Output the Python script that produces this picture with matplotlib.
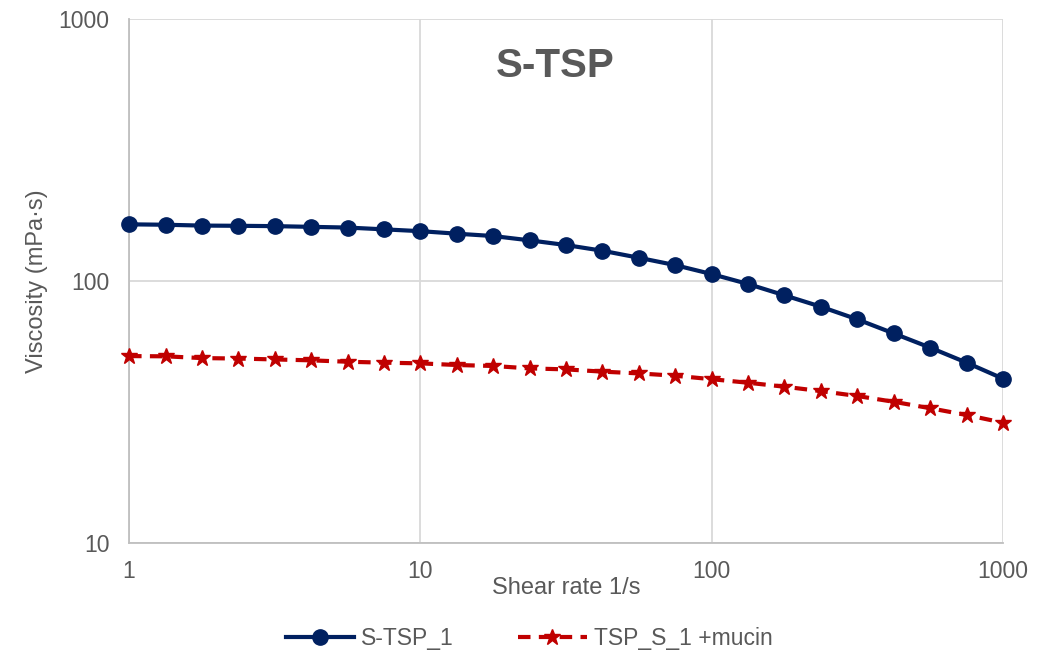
import matplotlib
matplotlib.use("Agg")
from matplotlib import pyplot as plt
from matplotlib.ticker import FixedLocator, FixedFormatter, NullLocator

plt.rcParams['font.family'] = ['Liberation Sans', 'DejaVu Sans']

# shear rate, 8 points per decade from 1 to 1000 1/s
shear_rate = [1.0, 1.334, 1.778, 2.371, 3.162, 4.217, 5.623, 7.499,
              10.0, 13.34, 17.78, 23.71, 31.62, 42.17, 56.23, 74.99,
              100.0, 133.4, 177.8, 237.1, 316.2, 421.7, 562.3, 749.9, 1000.0]

visc_stsp = [164.6, 164.0, 162.8, 162.5, 162.0, 161.0, 160.0, 157.5,
             155.0, 151.6, 148.5, 143.0, 137.2, 130.5, 122.7, 115.0,
             106.3, 97.4, 88.2, 79.8, 71.4, 63.1, 55.7, 48.8, 42.4]

visc_mucin = [51.7, 51.6, 50.8, 50.6, 50.2, 49.8, 49.2, 48.8,
              48.5, 47.8, 47.4, 46.4, 46.0, 45.1, 44.4, 43.5,
              42.2, 40.9, 39.5, 38.0, 36.4, 34.6, 32.7, 30.8, 28.8]

txt = '#595959'

fig = plt.figure(figsize=(10.58, 6.57), dpi=100)
ax = fig.add_axes([0.122, 0.1735, 0.826, 0.7975])

ax.plot(shear_rate, visc_stsp, color='#002060', lw=3, marker='o', ms=11,
        label='S-TSP_1', zorder=3, clip_on=False)
ax.plot(shear_rate, visc_mucin, color='#c00000', lw=3, ls=(0, (3, 2)),
        marker='*', ms=12, label='TSP_S_1 +mucin', zorder=3, clip_on=False)

ax.set_xscale('log')
ax.set_yscale('log')
ax.set_xlim(1, 1000)
ax.set_ylim(10, 1000)

ax.xaxis.set_major_locator(FixedLocator([1, 10, 100, 1000]))
ax.xaxis.set_major_formatter(FixedFormatter(['1', '10', '100', '1000']))
ax.yaxis.set_major_locator(FixedLocator([10, 100, 1000]))
ax.yaxis.set_major_formatter(FixedFormatter(['10', '100', '1000']))
ax.xaxis.set_minor_locator(NullLocator())
ax.yaxis.set_minor_locator(NullLocator())

ax.grid(True, color='#d9d9d9', lw=1.3, zorder=0)
ax.tick_params(length=0, labelsize=16.5, labelcolor=txt)
ax.tick_params(axis='x', pad=12)
ax.tick_params(axis='y', pad=14)

for s in ['top', 'right']:
    ax.spines[s].set_visible(False)
for s in ['left', 'bottom']:
    ax.spines[s].set_color('#bfbfbf')
    ax.spines[s].set_linewidth(1.3)

ax.set_xlabel('Shear rate 1/s', fontsize=17, color=txt, labelpad=-4)
ax.set_ylabel('Viscosity (mPa·s)', fontsize=17, color=txt, labelpad=8)

ax.text(0.488, 0.91, 'S-TSP', transform=ax.transAxes, ha='center', va='center',
        fontsize=29, fontweight='bold', color=txt)

fig.legend(loc='center', bbox_to_anchor=(0.5, 0.028), ncol=2, frameon=False,
           fontsize=16.5, labelcolor=txt, handlelength=3.0, handletextpad=0.3,
           columnspacing=2.8)

fig.savefig('out.png', dpi=100, facecolor='white')
